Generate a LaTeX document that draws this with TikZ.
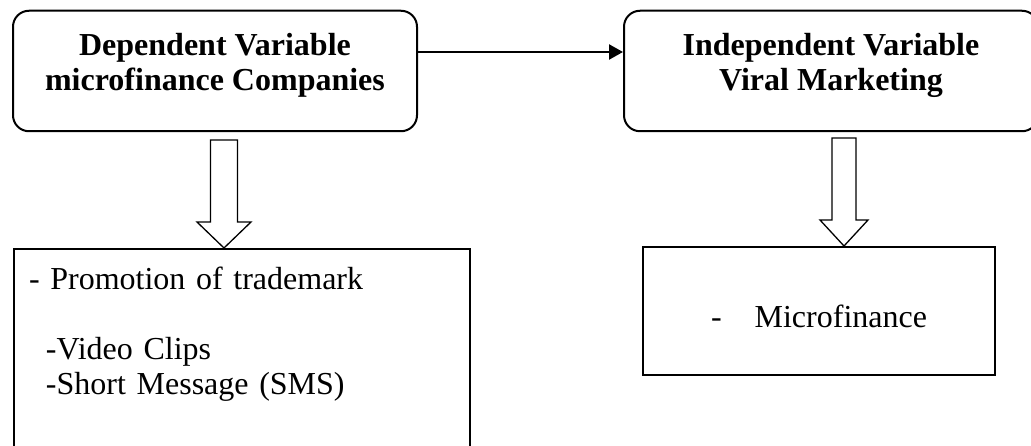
\documentclass[tikz,border=0pt]{standalone}
\usepackage{fontspec}
\setmainfont{Liberation Serif}
\usetikzlibrary{arrows.meta}

\newcommand{\diagfont}{\fontsize{32}{35}\selectfont}

\tikzset{
  varbox/.style = {draw, line width=2pt, rounded corners=16pt, align=center,
                   font=\diagfont\bfseries, minimum height=120.5pt, text depth=19pt},
  listbox/.style = {draw, line width=2pt, align=left, font=\diagfont,
                    inner xsep=15pt, inner ysep=18pt},
  flow/.style = {-{Triangle[length=14pt, width=15pt]}, line width=2.3pt},
  hollow/.style = {draw, line width=1.3pt, fill=white, line join=miter}
}

\begin{document}
\begin{tikzpicture}%
    [x=1pt, y=-1pt]
    \useasboundingbox (0,0) rectangle (1031,446);
    \clip (0,0) rectangle (1031,446);

    % the two variables
    \node[varbox, minimum width=404pt] (depvar) at (215,71) {Dependent Variable\\microfinance Companies};
    \node[varbox, minimum width=414pt] (indepvar) at (831,71) {Independent Variable\\Viral Marketing};

    % what they lead to
    \node[listbox, anchor=north west, text width=426pt, text depth=164pt] (promo) at (13,248)
        {- Promotion of trademark\\[35pt]\hspace*{17pt}-Video Clips\\\hspace*{17pt}-Short Message (SMS)};
    \node[draw, line width=2pt, font=\diagfont, minimum width=352pt, minimum height=128pt,
          text height=32pt, text depth=0pt] (result) at (819,311) {-\hspace{33pt}Microfinance};

    \draw[flow] ([yshift=19pt]depvar.east) -- ([yshift=19pt]indepvar.west);

    \coordinate (tipA) at ([xshift=-18pt]promo.north);
    \coordinate (tipB) at ([xshift=25pt]result.north);
    \draw[hollow] (tipA) -- ++(27,-26) -- ++(-13.5,0) -- ++(0,-82) -- ++(-27,0) -- ++(0,82) -- ++(-13.5,0) -- cycle;
    \draw[hollow] (tipB) -- ++(24,-26) -- ++(-12,0) -- ++(0,-82) -- ++(-24,0) -- ++(0,82) -- ++(-12,0) -- cycle;
\end{tikzpicture}
\end{document}
